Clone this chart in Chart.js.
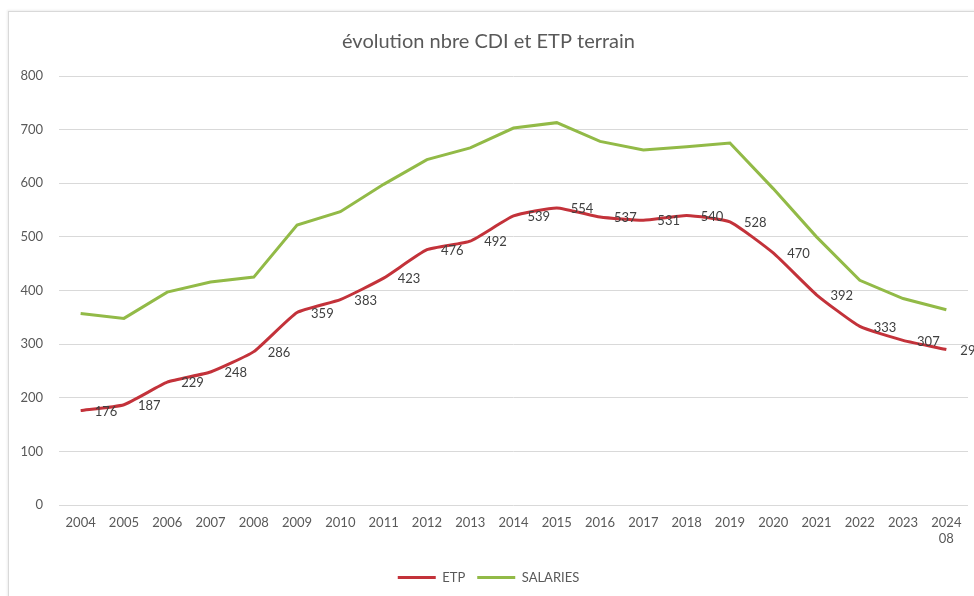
<!DOCTYPE html>
<html>
<head>
<meta charset="utf-8">
<script src="https://cdn.jsdelivr.net/npm/chart.js@4"></script>
<style>
    body { margin: 0; background: #fff; }
    #frame {
        position: absolute;
        left: 8px;
        top: 11px;
        width: 990px;
        height: 600px;
        border: 1px solid #d9d9d9;
        box-shadow: -1px -1px 2px #eee;
    }
    #evolution { display: block; }
</style>
</head>
<body>
<div id="frame">
    <canvas id="evolution" width="966" height="585"></canvas>
</div>
<script>
// annees
var annees = ["2004", "2005", "2006", "2007", "2008", "2009", "2010", "2011", "2012", "2013",
    "2014", "2015", "2016", "2017", "2018", "2019", "2020", "2021", "2022", "2023", ["2024", "08"]];

// ETP terrain
var etp = [176, 187, 229, 248, 286, 359, 383, 423, 476, 492,
    539, 554, 537, 531, 540, 528, 470, 392, 333, 307, 290];

// salaries en CDI
var salaries = [357, 348, 397, 416, 425, 522, 547, 598, 644, 666,
    703, 713, 678, 662, 668, 675, 590, 500, 419, 385, 364];

var yTicks = [0, 100, 200, 300, 400, 500, 600, 700, 800];

var fontFamily = "Lato, 'Open Sans', sans-serif";

// etiquettes de valeurs a droite des points ETP
var etiquettes = {
    id: "etiquettes",
    afterDatasetsDraw: function (chart) {
        var ctx = chart.ctx;
        var meta = chart.getDatasetMeta(0);
        ctx.save();
        ctx.font = "13px " + fontFamily;
        ctx.fillStyle = "#404040";
        ctx.textAlign = "left";
        ctx.textBaseline = "middle";
        meta.data.forEach(function (pt, i) {
            ctx.fillText(String(etp[i]), pt.x + 14, pt.y + 1);
        });
        ctx.restore();
    },
};

var ctx = document.getElementById("evolution").getContext("2d");
var chart = new Chart(ctx, {
    type: "line",
    data: {
        labels: annees,
        datasets: [
            {
                label: "ETP",
                data: etp,
                borderColor: "#c3323a",
                backgroundColor: "#c3323a",
                borderWidth: 3,
                pointRadius: 0,
                tension: 0.15,
                fill: false,
            },
            {
                label: "SALARIES",
                data: salaries,
                borderColor: "#92ba47",
                backgroundColor: "#92ba47",
                borderWidth: 3,
                pointRadius: 0,
                tension: 0,
                fill: false,
            },
        ],
    },
    options: {
        responsive: false,
        animation: false,
        layout: {
            padding: { left: 0, right: 7, top: 0, bottom: 3 },
        },
        plugins: {
            title: {
                display: true,
                text: "évolution nbre CDI et ETP terrain",
                color: "#595959",
                font: { family: fontFamily, size: 20, weight: "normal" },
                padding: { top: 18, bottom: 22 },
            },
            legend: {
                position: "bottom",
                labels: {
                    color: "#595959",
                    font: { family: fontFamily, size: 13 },
                    boxWidth: 38,
                    boxHeight: 3,
                    padding: 12,
                    generateLabels: function (chart) {
                        var items = Chart.defaults.plugins.legend.labels.generateLabels(chart);
                        items.forEach(function (it) {
                            it.lineWidth = 0;
                        });
                        return items;
                    },
                },
            },
            tooltip: { enabled: false },
        },
        scales: {
            x: {
                offset: true,
                grid: { display: false, drawTicks: false },
                border: { display: false },
                ticks: {
                    color: "#595959",
                    font: { family: fontFamily, size: 13 },
                    padding: 10,
                    maxRotation: 0,
                    autoSkip: false,
                },
                afterFit: function (scale) {
                    scale.height = 54;
                },
            },
            y: {
                min: 0,
                max: 800,
                grid: { color: "#d9d9d9", lineWidth: 1, drawTicks: false },
                border: { display: false },
                afterBuildTicks: function (scale) {
                    scale.ticks = yTicks.map(function (v) {
                        return { value: v };
                    });
                },
                ticks: {
                    color: "#595959",
                    font: { family: fontFamily, size: 13 },
                    padding: 16,
                },
                afterFit: function (scale) {
                    scale.width = 50;
                },
            },
        },
    },
    plugins: [etiquettes],
});
</script>
</body>
</html>
